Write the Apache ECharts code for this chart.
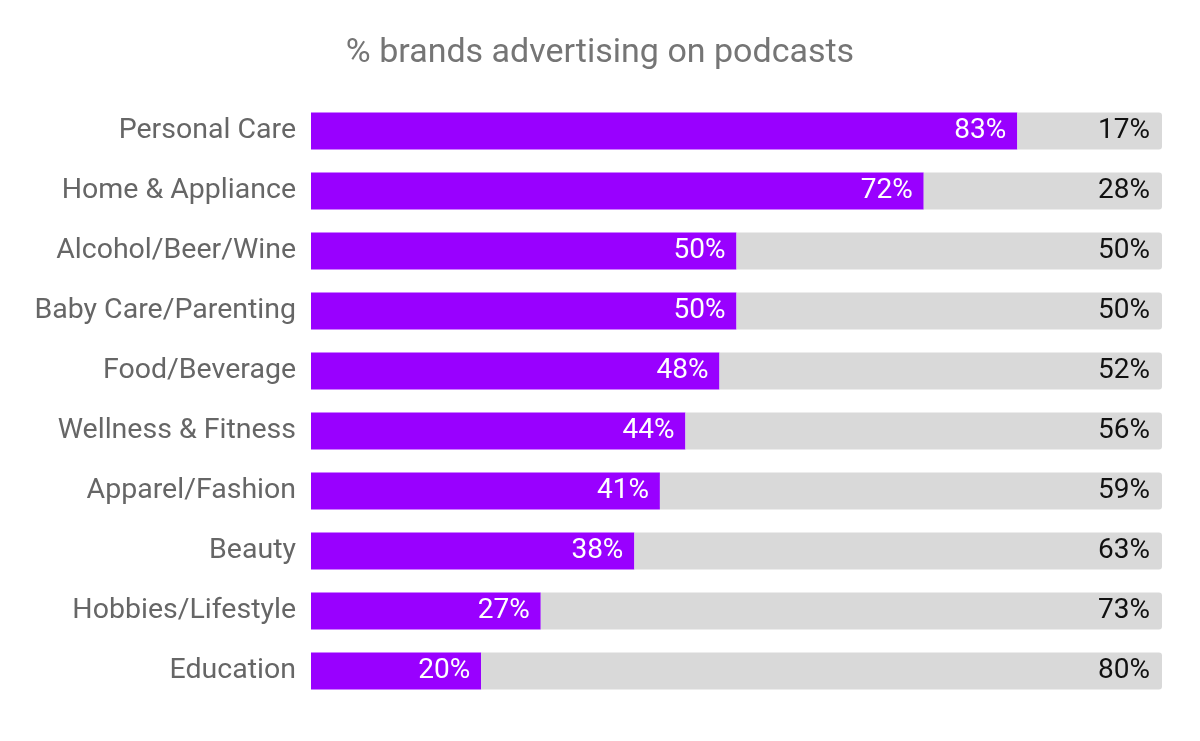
<!DOCTYPE html>
<html>
<head>
<meta charset="utf-8">
<script src="https://cdn.jsdelivr.net/npm/echarts@6/dist/echarts.min.js"></script>
<style>html,body{margin:0;padding:0;background:#fff;}#c{width:1200px;height:741px;}</style>
</head>
<body>
<div id="c"></div>
<script>
const categories = ["Personal Care","Home & Appliance","Alcohol/Beer/Wine","Baby Care/Parenting","Food/Beverage","Wellness & Fitness","Apparel/Fashion","Beauty","Hobbies/Lifestyle","Education"];
const advertising = [83,72,50,50,48,44,41,38,27,20];
const notAdvertising = [17,28,50,50,52,56,59,63,73,80];

const chart = echarts.init(document.getElementById('c'));
chart.setOption({
  animation: false,
  backgroundColor: '#ffffff',
  title: {
    text: '% brands advertising on podcasts',
    left: 'center',
    top: 31,
    textStyle: { fontFamily: 'Roboto', fontSize: 34, fontWeight: 'normal', color: '#757575' }
  },
  grid: { left: 311, right: 38, top: 101, bottom: 40, containLabel: false },
  xAxis: {
    type: 'value', min: 0, max: 100,
    show: false
  },
  yAxis: {
    type: 'category',
    data: categories,
    inverse: true,
    axisLine: { show: false },
    axisTick: { show: false },
    axisLabel: { fontFamily: 'Roboto', fontSize: 28.5, color: '#666666', margin: 15 }
  },
  series: [
    {
      type: 'bar', stack: 'total', barWidth: 37,
      data: advertising,
      itemStyle: { color: '#9900ff' },
      label: {
        show: true, position: 'insideRight', distance: 11,
        formatter: p => p.value + '%',
        fontFamily: 'Roboto', fontSize: 28, color: '#ffffff'
      }
    },
    {
      type: 'bar', stack: 'total', barWidth: 37,
      data: notAdvertising,
      itemStyle: { color: '#d9d9d9', borderRadius: [0, 3, 3, 0] },
      label: {
        show: true, position: 'insideRight', distance: 12,
        formatter: p => p.value + '%',
        fontFamily: 'Roboto', fontSize: 28, color: '#111111'
      }
    }
  ]
});
</script>
</body>
</html>
